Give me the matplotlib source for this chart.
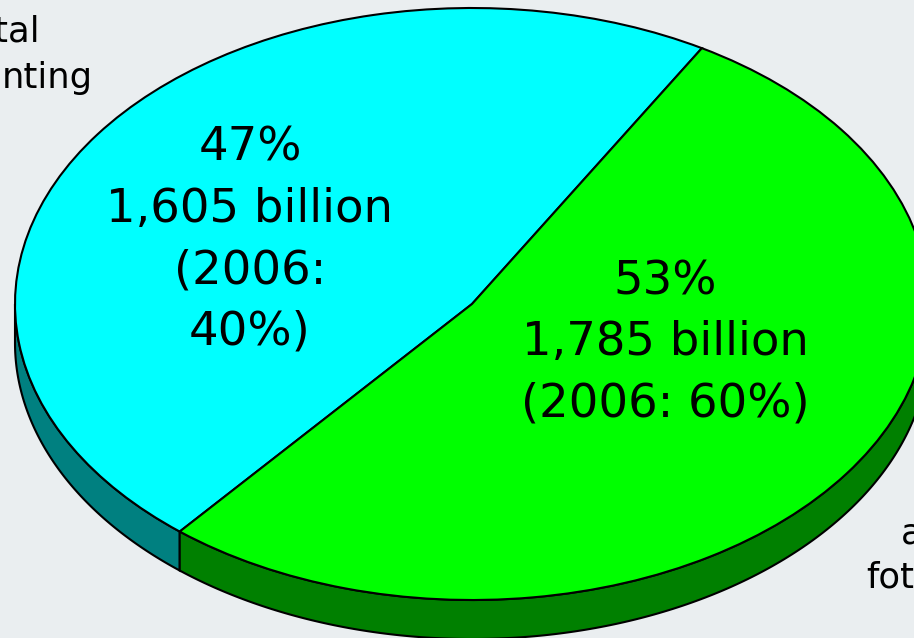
"""Tilted two-slice pie with a drawn rim, split of 3,390 billion."""

import matplotlib
matplotlib.use("Agg")
import matplotlib.pyplot as plt
import numpy as np

shares = [1605, 1785]
slice_colors = ["#00FFFF", "#00FF00"]
rim_colors = ["#008080", "#008000"]
slice_labels = ["47%\n1,605 billion\n(2006:\n40%)", "53%\n1,785 billion\n(2006: 60%)"]

WIDTH, HEIGHT = 914, 638
CENTER_X, CENTER_Y = 472, 304
RADIUS_X, RADIUS_Y = 457, 296
DEPTH = 39 / RADIUS_Y
START_ANGLE = 59.8
BACKGROUND = "#EAEEF0"
FONT = "DejaVu Sans"

plt.rcParams["font.family"] = [FONT]


def put_text(x, y, text, size, ha="center"):
    # x, y in pixels from the top left corner
    fig.text(x / WIDTH, 1 - y / HEIGHT, text, fontsize=size, ha=ha, va="center",
             color="black", linespacing=1.47)


def draw_rim(ax, start, end, color):
    # Visible side of the disc between two angles (degrees)
    angles = np.radians(np.linspace(start, end, 200))
    xs = np.cos(angles)
    ys = np.sin(angles)
    ax.fill(np.r_[xs, xs[::-1]], np.r_[ys, ys[::-1] - DEPTH],
            facecolor=color, edgecolor="black", linewidth=1.5)


fig = plt.figure(figsize=(WIDTH / 100, HEIGHT / 100), dpi=100, facecolor=BACKGROUND)
ax = fig.add_axes([0, 0, 1, 1])

# The first slice ends at this angle, the rim changes colour there
boundary = START_ANGLE + shares[0] / sum(shares) * 360
draw_rim(ax, 180, boundary, rim_colors[0])
draw_rim(ax, boundary, 360, rim_colors[1])

ax.pie(shares, colors=slice_colors, startangle=START_ANGLE, counterclock=True,
       wedgeprops={"edgecolor": "black", "linewidth": 1.5})

# Squash the unit circle into the ellipse
ax.set_aspect("auto")
ax.set_xlim(-CENTER_X / RADIUS_X, (WIDTH - CENTER_X) / RADIUS_X)
ax.set_ylim((CENTER_Y - HEIGHT) / RADIUS_Y, CENTER_Y / RADIUS_Y)
ax.axis("off")

put_text(250, 240, slice_labels[0], 33.5)
put_text(665, 343, slice_labels[1], 33.5)

# Side captions run off the edge of the canvas
put_text(40, 31, "tal", 25.5, ha="right")
put_text(93, 78, "nting", 25.5, ha="right")
put_text(901, 534, "a", 25.5, ha="left")
put_text(866, 578, "fot", 25.5, ha="left")

fig.savefig("out.png", dpi=100, facecolor=BACKGROUND)
plt.close(fig)
